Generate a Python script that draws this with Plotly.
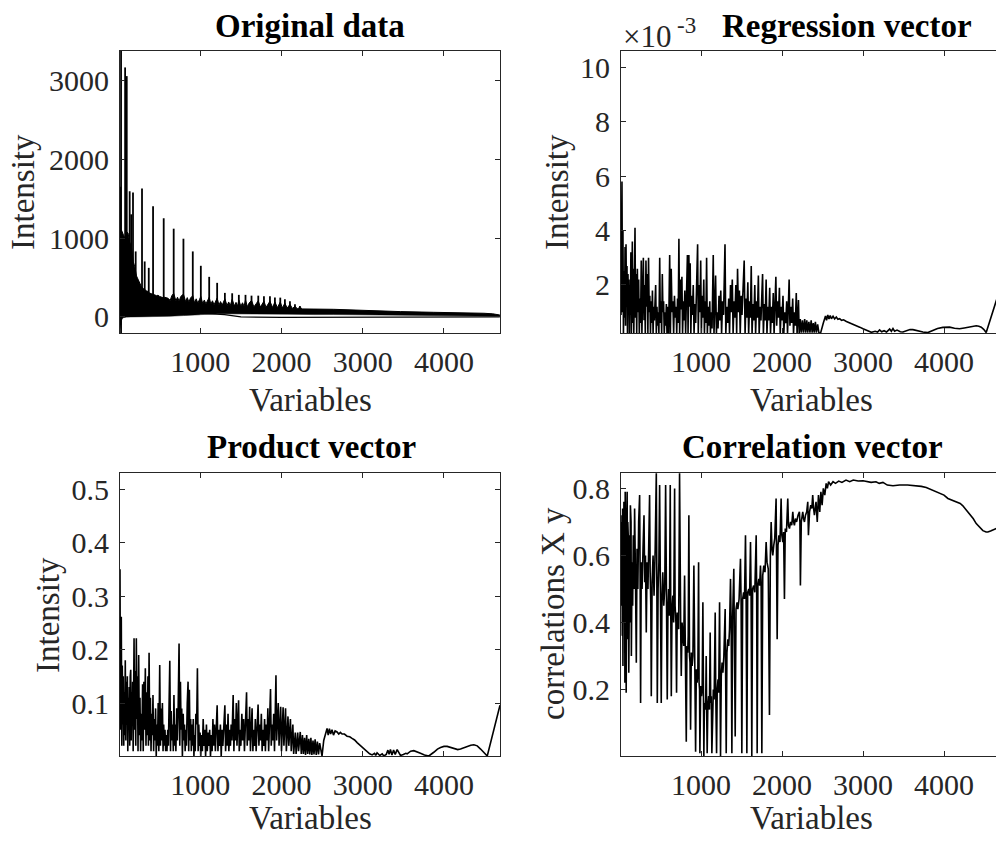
import plotly.graph_objects as go

# ---------------- data ----------------
# Original data: dense band (upper / lower envelope) + individual spikes
band_x = [12, 30, 50, 70, 90, 111, 130, 152, 175, 193, 215, 234, 255, 275, 300, 320, 340, 357,
          380, 400, 420, 439, 460, 480, 500, 520, 540, 560, 580, 604, 630, 650, 673, 700, 720,
          740, 760, 793, 820, 840, 860, 880, 908, 930, 950, 970, 990, 1007, 1030, 1050, 1070,
          1090, 1110, 1130, 1150, 1170, 1190, 1208, 1230, 1250, 1270, 1290, 1303, 1330, 1350,
          1370, 1393, 1420, 1440, 1460, 1475, 1500, 1520, 1540, 1557, 1580, 1600, 1631, 1660,
          1690, 1714, 1740, 1760, 1784, 1810, 1835, 1858, 1890, 1919, 1950, 1985, 2010, 2042,
          2070, 2104, 2135, 2166, 2195, 2227, 2260, 2300, 2400, 2642, 3053, 3465, 3875, 4287,
          4492, 4600, 4688]
band_upper = [1000, 1100, 1050, 1000, 1080, 1063, 950, 894, 700, 640, 520, 470, 420, 385, 360,
              340, 330, 322, 300, 295, 290, 280, 270, 275, 260, 255, 245, 250, 240, 237, 210,
              270, 300, 205, 250, 200, 260, 290, 195, 245, 190, 240, 270, 180, 230, 175, 220,
              260, 170, 215, 165, 210, 250, 160, 205, 155, 200, 240, 150, 195, 150, 190, 230,
              145, 190, 145, 225, 140, 185, 140, 215, 135, 180, 135, 215, 130, 175, 210, 128,
              170, 205, 125, 165, 200, 122, 160, 200, 120, 190, 118, 190, 115, 175, 112, 160,
              108, 135, 105, 120, 102, 100, 100, 97, 80, 68, 59, 55, 47, 40, 25]
band_lower = [-150, -40, -10, 0, 0, 0, 0, 0, 0, 0, 0, 0, 0, 0, 0, 0, 0, 0, 0, 0, 0, 0, 0, 0, 0,
              5, 5, 5, 8, 8, 10, 10, 12, 12, 14, 14, 16, 18, 20, 20, 22, 22, 24, 24, 26, 26, 28,
              30, 30, 32, 32, 34, 34, 36, 36, 38, 38, 40, 40, 40, 40, 40, 40, 40, 40, 40, 40,
              40, 40, 40, 40, 42, 42, 42, 42, 42, 44, 44, 44, 44, 45, 45, 45, 45, 45, 45, 45,
              45, 42, 42, 40, 40, 38, 36, 35, 34, 32, 32, 30, 30, 30, 30, 30, 25, 22, 20, 18,
              15, 12, 10]
baseline_x = [12, 500, 1000, 1300, 1500, 2000, 3000, 4000, 4688]
baseline_y = [0, 25, 50, 30, 0, -5, -5, -5, 0]
spike_x = [20, 25, 75, 95, 131, 150, 172, 205, 283, 316, 366, 419, 550, 673, 793, 908, 1007,
           1110, 1208, 1303, 1393, 1475, 1557, 1631, 1714, 1784, 1858, 1919, 1985, 2042, 2104,
           2166, 2227]
spike_top = [1650, 3368, 3160, 3050, 1592, 1300, 1575, 830, 1626, 703, 622, 1402, 1250, 1118,
             991, 830, 648, 508, 432, 305, 300, 280, 280, 270, 270, 262, 262, 245, 245, 225,
             200, 160, 140]
spike_base = [-100, -203, 0, 0, 300, 300, 300, 250, 250, 250, 250, 230, 220, 220, 210, 200,
              190, 180, 170, 165, 160, 155, 155, 150, 150, 150, 145, 140, 140, 130, 125, 115,
              110]

# Regression vector (values in units of 1e-3)
regression_points = [
    (12, 0.9), (18, 4.3), (24, 5.8), (30, 1.0), (36, 4.0), (42, 0.2), (50, 2.5), (56, 0.8),
    (62, 3.4), (68, 0.5), (74, 3.5), (80, 1.2), (86, 2.7), (92, 0.2), (98, 2.4), (104, 1.0),
    (110, 2.2), (116, 0.2), (122, 2.0), (128, 0.9), (134, 3.2), (140, 0.2), (146, 2.1),
    (152, 3.6), (158, 0.6), (164, 2.6), (170, 0.2), (176, 1.8), (185, 4.1), (192, 0.8),
    (198, 2.4), (206, 0.2), (214, 2.6), (222, 1.0), (230, 2.2), (238, 0.2), (246, 1.5),
    (254, 0.6), (262, 2.9), (270, 0.2), (278, 2.2), (288, 3.0), (296, 0.7), (304, 2.0),
    (312, 0.2), (320, 2.9), (328, 1.2), (336, 2.4), (344, 0.2), (352, 3.0), (360, 1.0),
    (368, 1.6), (376, 0.2), (384, 1.4), (392, 0.6), (400, 1.8), (408, 0.2), (416, 1.2),
    (424, 0.7), (432, 1.5), (440, 2.0), (448, 0.2), (456, 1.2), (464, 0.5), (472, 1.0),
    (480, 0.2), (490, 3.0), (498, 0.6), (506, 1.4), (514, 0.2), (522, 2.4), (530, 1.0),
    (538, 1.4), (546, 0.2), (556, 1.0), (564, 0.5), (572, 1.3), (580, 0.2), (590, 1.2),
    (600, 0.2), (613, 3.1), (622, 0.2), (632, 2.6), (642, 1.0), (652, 1.4), (662, 0.2),
    (672, 1.6), (682, 0.8), (692, 1.2), (700, 0.2), (710, 1.5), (718, 0.6), (727, 3.7),
    (736, 0.2), (745, 2.2), (754, 1.1), (764, 2.3), (772, 0.2), (782, 1.4), (790, 0.7),
    (800, 1.8), (810, 0.2), (820, 1.5), (832, 3.1), (840, 0.2), (850, 3.1), (858, 1.2),
    (866, 2.8), (874, 0.2), (884, 1.6), (894, 0.9), (904, 2.0), (914, 0.2), (924, 1.3),
    (934, 0.6), (944, 1.8), (958, 3.5), (966, 0.2), (976, 2.0), (986, 1.0), (996, 2.9),
    (1004, 0.2), (1014, 1.6), (1024, 0.8), (1034, 2.2), (1042, 0.2), (1052, 1.4), (1060, 0.6),
    (1069, 3.0), (1078, 0.2), (1088, 1.2), (1098, 0.5), (1108, 1.4), (1116, 0.2), (1126, 1.0),
    (1136, 0.4), (1151, 3.1), (1160, 0.2), (1170, 1.2), (1180, 2.35), (1190, 0.2), (1200, 1.0),
    (1210, 0.4), (1222, 1.6), (1232, 0.7), (1244, 1.8), (1254, 0.2), (1266, 1.4), (1278, 0.9),
    (1296, 3.5), (1306, 0.2), (1318, 1.2), (1330, 0.6), (1342, 1.5), (1352, 0.2), (1364, 2.0),
    (1374, 1.0), (1386, 2.2), (1396, 0.2), (1408, 1.4), (1418, 0.8), (1430, 2.0), (1440, 0.2),
    (1451, 2.6), (1462, 1.0), (1474, 1.8), (1484, 0.2), (1496, 1.6), (1506, 0.9), (1520, 2.2),
    (1533, 2.9), (1544, 0.2), (1556, 1.5), (1566, 0.8), (1578, 2.1), (1588, 0.2), (1600, 1.4),
    (1610, 0.8), (1620, 2.7), (1630, 0.2), (1642, 1.3), (1652, 0.7), (1664, 2.0), (1674, 0.2),
    (1686, 1.4), (1696, 0.8), (1708, 2.35), (1718, 0.2), (1730, 1.2), (1740, 0.7), (1760, 2.4),
    (1770, 0.2), (1782, 1.3), (1792, 0.7), (1804, 2.2), (1814, 0.2), (1826, 1.2), (1836, 0.7),
    (1848, 1.9), (1858, 0.2), (1870, 1.2), (1880, 0.6), (1892, 1.7), (1902, 0.2), (1924, 2.3),
    (1934, 0.5), (1946, 1.4), (1956, 0.8), (1968, 1.9), (1978, 0.2), (1990, 1.2), (2000, 0.7),
    (2012, 1.6), (2022, 0.2), (2034, 1.0), (2046, 0.6), (2058, 1.4), (2068, 0.2), (2088, 2.2),
    (2098, 0.5), (2110, 1.2), (2120, 0.6), (2132, 1.5), (2142, 0.2), (2154, 1.0), (2164, 0.5),
    (2176, 1.7), (2186, 0.2), (2203, 1.45), (2212, 0.2), (2225, 0.75), (2238, 0.25), (2252, 0.7),
    (2265, 0.25), (2280, 0.75), (2292, 0.25), (2306, 0.7), (2318, 0.25), (2332, 0.65), (2345, 0.25),
    (2360, 0.7), (2372, 0.25), (2386, 0.6), (2398, 0.25), (2412, 0.65), (2425, 0.25), (2440, 0.55),
    (2455, 0.25), (2475, 0.22), (2510, 0.6), (2537, 0.86), (2550, 0.7), (2565, 0.9), (2580, 0.75),
    (2595, 0.88), (2610, 0.76), (2630, 0.85), (2650, 0.75), (2670, 0.82), (2690, 0.74),
    (2712, 0.76), (2735, 0.7), (2760, 0.72), (2795, 0.66), (2830, 0.62), (2877, 0.57),
    (2920, 0.5), (2959, 0.45), (3000, 0.39), (3041, 0.33), (3070, 0.29), (3103, 0.26),
    (3150, 0.3), (3180, 0.27), (3205, 0.35), (3230, 0.28), (3260, 0.32), (3290, 0.27),
    (3329, 0.38), (3350, 0.3), (3370, 0.4), (3390, 0.3), (3420, 0.34), (3460, 0.28),
    (3493, 0.27), (3530, 0.32), (3580, 0.36), (3616, 0.36), (3660, 0.32), (3700, 0.3),
    (3739, 0.27), (3801, 0.25), (3863, 0.33), (3920, 0.4), (3986, 0.44), (4030, 0.46),
    (4069, 0.45), (4130, 0.41), (4192, 0.39), (4250, 0.42), (4315, 0.45), (4360, 0.49),
    (4398, 0.5), (4430, 0.48), (4460, 0.45), (4490, 0.37), (4521, 0.25), (4642, 1.39),
    (4688, 1.83)]

# Product vector
product_points = [
    (12, 0.35), (18, 0.05), (22, 0.26), (28, 0.26), (34, 0.02), (40, 0.17), (46, 0.06),
    (52, 0.15), (58, 0.02), (64, 0.12), (70, 0.04), (77, 0.18), (84, 0.03), (90, 0.14),
    (96, 0.06), (102, 0.15), (108, 0.01), (114, 0.11), (120, 0.05), (126, 0.13), (132, 0.02),
    (138, 0.15), (144, 0.162), (150, 0.03), (156, 0.12), (162, 0.06), (168, 0.14), (174, 0.01),
    (185, 0.221), (192, 0.05), (200, 0.16), (206, 0.02), (213, 0.221), (220, 0.07), (227, 0.15),
    (234, 0.01), (242, 0.19), (250, 0.04), (258, 0.11), (266, 0.01), (274, 0.08), (282, 0.03),
    (290, 0.135), (298, 0.01), (306, 0.14), (314, 0.05), (324, 0.165), (332, 0.02), (340, 0.12),
    (348, 0.04), (356, 0.15), (362, 0.02), (370, 0.194), (378, 0.03), (386, 0.11), (394, 0.01),
    (402, 0.08), (410, 0.04), (418, 0.115), (426, 0.01), (434, 0.07), (442, 0.03), (450, 0.09),
    (458, 0.0), (466, 0.06), (474, 0.02), (482, 0.1), (490, 0.01), (501, 0.171), (510, 0.02),
    (518, 0.09), (526, 0.03), (534, 0.1), (542, 0.01), (550, 0.06), (558, 0.02), (566, 0.05),
    (574, 0.01), (582, 0.04), (590, 0.01), (600, 0.05), (608, 0.02), (625, 0.179), (634, 0.01),
    (642, 0.085), (650, 0.03), (660, 0.06), (668, 0.01), (676, 0.115), (684, 0.02), (692, 0.06),
    (700, 0.01), (710, 0.09), (718, 0.03), (727, 0.08), (739, 0.2115), (748, 0.02), (756, 0.14),
    (764, 0.05), (772, 0.09), (780, 0.0), (790, 0.08), (798, 0.03), (806, 0.06), (814, 0.01),
    (822, 0.05), (830, 0.02), (840, 0.1), (850, 0.14), (858, 0.01), (866, 0.125), (874, 0.03),
    (882, 0.07), (890, 0.01), (898, 0.06), (906, 0.02), (914, 0.07), (922, 0.0), (930, 0.04),
    (938, 0.01), (946, 0.08), (956, 0.06), (965, 0.165), (974, 0.01), (982, 0.06), (990, 0.02),
    (998, 0.045), (1006, 0.0), (1016, 0.04), (1026, 0.01), (1036, 0.07), (1046, 0.02),
    (1056, 0.05), (1066, 0.0), (1076, 0.06), (1086, 0.01), (1096, 0.045), (1106, 0.02),
    (1116, 0.05), (1126, 0.0), (1136, 0.04), (1146, 0.01), (1156, 0.07), (1166, 0.02),
    (1176, 0.06), (1186, 0.01), (1196, 0.05), (1208, 0.096), (1218, 0.01), (1228, 0.05),
    (1238, 0.02), (1248, 0.06), (1258, 0.0), (1268, 0.05), (1278, 0.02), (1290, 0.07),
    (1303, 0.096), (1312, 0.01), (1322, 0.06), (1332, 0.02), (1342, 0.08), (1352, 0.01),
    (1362, 0.05), (1372, 0.02), (1380, 0.06), (1390, 0.03), (1405, 0.115), (1414, 0.01),
    (1424, 0.07), (1434, 0.03), (1444, 0.1), (1452, 0.02), (1462, 0.06), (1472, 0.105),
    (1480, 0.01), (1490, 0.05), (1500, 0.02), (1512, 0.08), (1522, 0.03), (1534, 0.07),
    (1544, 0.01), (1556, 0.05), (1570, 0.12), (1578, 0.02), (1588, 0.07), (1598, 0.03),
    (1608, 0.093), (1618, 0.01), (1628, 0.06), (1638, 0.09), (1648, 0.01), (1658, 0.05),
    (1668, 0.02), (1678, 0.07), (1688, 0.01), (1700, 0.05), (1712, 0.097), (1722, 0.02),
    (1732, 0.06), (1742, 0.03), (1752, 0.08), (1762, 0.01), (1772, 0.05), (1782, 0.02),
    (1792, 0.07), (1802, 0.01), (1812, 0.06), (1822, 0.03), (1832, 0.09), (1842, 0.01),
    (1852, 0.07), (1865, 0.126), (1874, 0.02), (1884, 0.06), (1894, 0.03), (1904, 0.08),
    (1914, 0.01), (1922, 0.06), (1932, 0.152), (1940, 0.03), (1950, 0.07), (1960, 0.1),
    (1970, 0.02), (1980, 0.06), (1990, 0.093), (2000, 0.01), (2010, 0.06), (2020, 0.092),
    (2030, 0.02), (2040, 0.07), (2050, 0.09), (2060, 0.01), (2070, 0.05), (2080, 0.075),
    (2090, 0.02), (2100, 0.05), (2110, 0.07), (2120, 0.01), (2130, 0.04), (2140, 0.06),
    (2150, 0.005), (2160, 0.035), (2170, 0.045), (2180, 0.005), (2190, 0.04), (2200, 0.045),
    (2210, 0.01), (2220, 0.035), (2231, 0.046), (2244, 0.005), (2258, 0.04), (2270, 0.005),
    (2284, 0.035), (2296, 0.003), (2310, 0.04), (2322, 0.005), (2336, 0.033), (2348, 0.004),
    (2362, 0.035), (2374, 0.003), (2388, 0.03), (2400, 0.004), (2414, 0.032), (2428, 0.003),
    (2442, 0.028), (2456, 0.004), (2470, 0.025), (2499, 0.001), (2520, 0.03), (2561, 0.0527),
    (2575, 0.04), (2590, 0.052), (2605, 0.042), (2622, 0.05), (2640, 0.04), (2660, 0.048),
    (2684, 0.046), (2705, 0.042), (2725, 0.045), (2746, 0.042), (2775, 0.042), (2807, 0.038),
    (2840, 0.037), (2869, 0.034), (2900, 0.031), (2931, 0.026), (2960, 0.022), (2992, 0.018),
    (3020, 0.014), (3054, 0.009), (3085, 0.005), (3116, 0.003), (3145, 0.006), (3160, 0.002),
    (3177, 0.007), (3210, 0.002), (3240, 0.005), (3259, 0.001), (3290, 0.004), (3310, 0.012),
    (3325, 0.004), (3341, 0.013), (3360, 0.003), (3380, 0.012), (3400, 0.004), (3424, 0.013),
    (3445, 0.006), (3465, 0.002), (3500, 0.004), (3530, 0.006), (3547, 0.005), (3590, 0.01),
    (3629, 0.011), (3670, 0.009), (3711, 0.006), (3760, 0.003), (3814, 0.001), (3875, 0.008),
    (3920, 0.014), (3958, 0.017), (4000, 0.019), (4040, 0.019), (4080, 0.017), (4122, 0.015),
    (4170, 0.013), (4204, 0.014), (4250, 0.017), (4287, 0.018), (4330, 0.021), (4368, 0.022),
    (4410, 0.02), (4451, 0.014), (4490, 0.008), (4533, 0.001), (4690, 0.096)]

# Correlation vector
correlation_points = [
    (12, 0.62), (16, 0.70), (20, 0.45), (24, 0.72), (28, 0.36), (32, 0.74), (36, 0.27),
    (40, 0.68), (44, 0.40), (48, 0.76), (52, 0.50), (56, 0.72), (60, 0.22), (64, 0.79),
    (68, 0.45), (72, 0.66), (76, 0.19), (80, 0.70), (84, 0.55), (88, 0.79), (92, 0.35),
    (96, 0.70), (100, 0.60), (104, 0.64), (108, 0.25), (112, 0.62), (116, 0.48), (120, 0.66),
    (124, 0.40), (128, 0.75), (132, 0.55), (136, 0.70), (140, 0.30), (148, 0.58), (156, 0.45),
    (164, 0.66), (172, 0.50), (180, 0.74), (190, 0.55), (201, 0.28), (210, 0.62), (220, 0.50),
    (230, 0.70), (242, 0.78), (248, 0.55), (254, 0.16), (262, 0.58), (272, 0.50), (284, 0.62),
    (296, 0.72), (305, 0.52), (314, 0.60), (324, 0.37), (334, 0.58), (345, 0.50), (356, 0.66),
    (365, 0.78), (372, 0.55), (380, 0.45), (386, 0.18), (396, 0.52), (408, 0.60), (420, 0.48),
    (434, 0.62), (448, 0.845), (454, 0.55), (460, 0.16), (470, 0.50), (480, 0.58), (489, 0.81),
    (498, 0.52), (509, 0.16), (518, 0.48), (528, 0.55), (540, 0.45), (552, 0.50), (563, 0.81),
    (572, 0.48), (583, 0.17), (592, 0.45), (600, 0.50), (610, 0.42), (620, 0.81), (626, 0.46),
    (633, 0.18), (642, 0.44), (652, 0.48), (662, 0.40), (674, 0.80), (680, 0.45), (690, 0.40),
    (698, 0.19), (706, 0.43), (715, 0.42), (724, 0.38), (735, 0.845), (742, 0.42), (750, 0.36),
    (756, 0.24), (766, 0.40), (776, 0.36), (786, 0.33), (797, 0.54), (806, 0.35), (812, 0.30),
    (818, 0.044), (826, 0.33), (836, 0.31), (842, 0.36), (850, 0.72), (858, 0.30), (864, 0.28),
    (871, 0.08), (880, 0.31), (890, 0.27), (900, 0.30), (912, 0.57), (920, 0.26), (926, 0.24),
    (933, 0.014), (942, 0.26), (952, 0.22), (961, 0.25), (970, 0.58), (976, 0.22), (982, 0.20),
    (986, 0.01), (996, 0.21), (1006, 0.18), (1014, 0.20), (1023, 0.46), (1028, 0.17),
    (1035, 0.0), (1042, 0.16), (1050, 0.14), (1058, 0.17), (1064, 0.30), (1070, 0.13),
    (1076, 0.01), (1084, 0.15), (1094, 0.18), (1104, 0.14), (1113, 0.37), (1120, 0.16),
    (1127, 0.18), (1134, 0.01), (1142, 0.17), (1152, 0.20), (1162, 0.17), (1175, 0.43),
    (1182, 0.19), (1192, 0.01), (1200, 0.20), (1210, 0.23), (1218, 0.19), (1229, 0.46),
    (1235, 0.22), (1241, 0.0), (1250, 0.24), (1260, 0.28), (1270, 0.25), (1282, 0.30),
    (1298, 0.44), (1304, 0.29), (1311, 0.01), (1320, 0.31), (1332, 0.35), (1342, 0.33),
    (1352, 0.38), (1364, 0.53), (1372, 0.40), (1381, 0.01), (1390, 0.41), (1405, 0.56),
    (1412, 0.42), (1422, 0.06), (1432, 0.44), (1445, 0.46), (1455, 0.44), (1470, 0.47),
    (1487, 0.59), (1495, 0.46), (1504, 0.01), (1514, 0.47), (1526, 0.49), (1537, 0.47),
    (1549, 0.66), (1557, 0.48), (1566, 0.01), (1576, 0.49), (1590, 0.50), (1600, 0.48),
    (1611, 0.64), (1618, 0.49), (1627, 0.0), (1637, 0.50), (1650, 0.51), (1664, 0.49),
    (1681, 0.66), (1687, 0.50), (1693, 0.01), (1702, 0.51), (1714, 0.53), (1724, 0.51),
    (1734, 0.57), (1742, 0.52), (1751, 0.01), (1762, 0.54), (1775, 0.57), (1790, 0.55),
    (1804, 0.64), (1815, 0.58), (1830, 0.56), (1845, 0.124), (1856, 0.60), (1866, 0.70),
    (1876, 0.62), (1886, 0.60), (1898, 0.63), (1910, 0.65), (1927, 0.77), (1934, 0.63),
    (1940, 0.35), (1950, 0.63), (1962, 0.66), (1975, 0.64), (1989, 0.77), (1998, 0.66),
    (2010, 0.64), (2020, 0.67), (2030, 0.47), (2040, 0.68), (2055, 0.67), (2071, 0.77),
    (2080, 0.69), (2092, 0.68), (2105, 0.70), (2120, 0.69), (2133, 0.73), (2143, 0.70),
    (2153, 0.69), (2165, 0.71), (2180, 0.70), (2198, 0.72), (2215, 0.73), (2221, 0.70),
    (2227, 0.51), (2238, 0.70), (2248, 0.72), (2256, 0.73), (2266, 0.71), (2277, 0.70),
    (2290, 0.72), (2305, 0.73), (2318, 0.76), (2322, 0.72), (2326, 0.66), (2340, 0.73),
    (2355, 0.75), (2368, 0.74), (2379, 0.78), (2390, 0.74), (2400, 0.72), (2420, 0.76),
    (2435, 0.70), (2450, 0.78), (2466, 0.73), (2480, 0.79), (2495, 0.75), (2510, 0.80),
    (2528, 0.78), (2545, 0.815), (2560, 0.80), (2575, 0.82), (2600, 0.81), (2630, 0.82),
    (2660, 0.815), (2700, 0.822), (2740, 0.818), (2790, 0.825), (2836, 0.82), (2880, 0.825),
    (2940, 0.822), (3000, 0.823), (3041, 0.82), (3100, 0.818), (3160, 0.82), (3200, 0.815),
    (3246, 0.818), (3300, 0.81), (3370, 0.808), (3410, 0.81), (3452, 0.81), (3550, 0.81),
    (3658, 0.808), (3720, 0.806), (3781, 0.803), (3860, 0.795), (3945, 0.787), (4000, 0.78),
    (4048, 0.77), (4100, 0.765), (4151, 0.762), (4200, 0.755), (4233, 0.748), (4275, 0.735),
    (4315, 0.725), (4360, 0.71), (4398, 0.695), (4440, 0.683), (4480, 0.674), (4520, 0.67),
    (4541, 0.67), (4575, 0.673), (4603, 0.677), (4640, 0.68), (4688, 0.685)]

x_ticks = [1000, 2000, 3000, 4000]
orig_yticks = [0, 1000, 2000, 3000]
reg_yticks = [2, 4, 6, 8, 10]
prod_yticks = [0.1, 0.2, 0.3, 0.4, 0.5]
corr_yticks = [0.2, 0.4, 0.6, 0.8]

titles = ["Original data", "Regression vector", "Product vector", "Correlation vector"]

# ---------------- figure ----------------
W, H = 996, 844
FONT = "Liberation Serif, Times New Roman, serif"
AX = "#262626"
TICK = 30
LAB = 33
LW = 1.6

fig = go.Figure()
line = dict(color="black", width=LW)

# Panel 1
fig.add_trace(go.Scatter(x=band_x, y=band_lower, mode="lines", line=dict(color="black", width=0.5),
                         xaxis="x", yaxis="y", showlegend=False, hoverinfo="skip"))
fig.add_trace(go.Scatter(x=band_x, y=band_upper, mode="lines", fill="tonexty", fillcolor="black",
                         line=dict(color="black", width=1), xaxis="x", yaxis="y", showlegend=False))
fig.add_trace(go.Scatter(x=baseline_x, y=baseline_y, mode="lines", line=dict(color="black", width=1.3),
                         xaxis="x", yaxis="y", showlegend=False))
sx, sy = [], []
for xv, top, base in zip(spike_x, spike_top, spike_base):
    sx += [xv, xv, None]
    sy += [base, top, None]
fig.add_trace(go.Scatter(x=sx, y=sy, mode="lines", line=dict(color="black", width=1.8),
                         xaxis="x", yaxis="y", showlegend=False))

# Panel 2
rx, ry = zip(*regression_points)
fig.add_trace(go.Scatter(x=rx, y=ry, mode="lines", line=line, xaxis="x2", yaxis="y2", showlegend=False))
# Panel 3
px_, py_ = zip(*product_points)
fig.add_trace(go.Scatter(x=px_, y=py_, mode="lines", line=line, xaxis="x3", yaxis="y3", showlegend=False))
# Panel 4
cx, cy = zip(*correlation_points)
fig.add_trace(go.Scatter(x=cx, y=cy, mode="lines", line=line, xaxis="x4", yaxis="y4", showlegend=False))

left_dom = [120 / W, 500 / W]
right_dom = [621 / W, 1.0]
top_dom = [1 - 333 / H, 1 - 51 / H]
bot_dom = [1 - 756 / H, 1 - 473 / H]


def xax(dom, anchor, rng):
    return dict(domain=dom, anchor=anchor, range=rng, tickvals=x_ticks, ticks="inside", ticklen=5,
                tickcolor=AX, showline=True, linecolor=AX, linewidth=1, mirror="ticks",
                showgrid=False, zeroline=False, tickfont=dict(family=FONT, size=TICK, color=AX),
                ticklabelstandoff=2)


def yax(dom, anchor, rng, vals, text, mirror):
    return dict(domain=dom, anchor=anchor, range=rng, tickvals=vals, ticktext=text, ticks="inside",
                ticklen=5, tickcolor=AX, showline=True, linecolor=AX, linewidth=1, mirror=mirror,
                showgrid=False, zeroline=False, tickfont=dict(family=FONT, size=TICK, color=AX),
                ticklabelstandoff=4)


fig.update_layout(
    width=W, height=H, margin=dict(l=0, r=0, t=0, b=0),
    paper_bgcolor="white", plot_bgcolor="white", showlegend=False,
    xaxis=xax(left_dom, "y", [12, 4690]),
    yaxis=yax(top_dom, "x", [-203, 3368], orig_yticks, [str(v) for v in orig_yticks], "ticks"),
    xaxis2=xax(right_dom, "y2", [12, 4642]),
    yaxis2=yax(top_dom, "x2", [0.235, 10.6], reg_yticks, [str(v) for v in reg_yticks], False),
    xaxis3=xax(left_dom, "y3", [12, 4690]),
    yaxis3=yax(bot_dom, "x3", [0.001, 0.53], prod_yticks, [str(v) for v in prod_yticks], "ticks"),
    xaxis4=xax(right_dom, "y4", [12, 4642]),
    yaxis4=yax(bot_dom, "x4", [0.0015, 0.846], corr_yticks, [str(v) for v in corr_yticks], False),
)

ann = []
def text(x, y, s, size, bold=False, angle=0, xanchor="center", color="black"):
    ann.append(dict(x=x / W, y=1 - y / H, xref="paper", yref="paper", text=f"<b>{s}</b>" if bold else s,
                    showarrow=False, textangle=angle, xanchor=xanchor, yanchor="middle",
                    font=dict(family=FONT, size=size, color=color)))

text(310, 26, titles[0], LAB, bold=True)
text(847, 26, titles[1], LAB, bold=True)
text(311, 447, titles[2], LAB, bold=True)
text(812, 447, titles[3], LAB, bold=True)
text(310, 400, "Variables", LAB, color=AX)
text(811, 400, "Variables", LAB, color=AX)
text(310, 818, "Variables", LAB, color=AX)
text(811, 818, "Variables", LAB, color=AX)
text(23, 192, "Intensity", LAB, angle=-90, color=AX)
text(557, 192, "Intensity", LAB, angle=-90, color=AX)
text(48, 615, "Intensity", LAB, angle=-90, color=AX)
text(553, 614, "correlations X y", LAB, angle=-90, color=AX)
text(621, 36, "×10", 31, xanchor="left", color=AX)
text(675, 25, "-3", 23, xanchor="left", color=AX)
fig.update_layout(annotations=ann)

fig.write_html("out.html")
